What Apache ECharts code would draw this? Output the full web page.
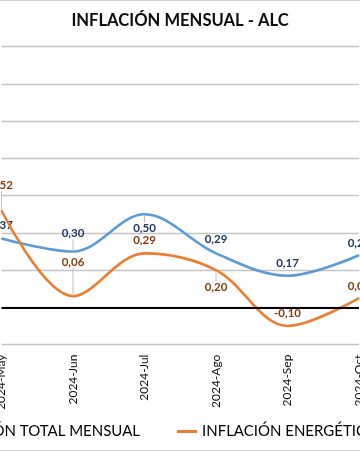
<!DOCTYPE html>
<html>
<head>
<meta charset="utf-8">
<script src="https://cdn.jsdelivr.net/npm/echarts@6/dist/echarts.min.js"></script>
<style>html,body{margin:0;padding:0;background:#fff}#c{width:360px;height:452px}</style>
</head>
<body>
<div id="c"></div>
<script>
const categories = ['2024-May', '2024-Jun', '2024-Jul', '2024-Ago', '2024-Sep', '2024-Oct'];
const totalValues = [0.37, 0.30, 0.50, 0.29, 0.17, 0.28];
const energyValues = [0.52, 0.06, 0.29, 0.20, -0.10, 0.05];
const yTicks = [-0.2, 0, 0.2, 0.4, 0.6, 0.8, 1.0, 1.2, 1.4];

const totalName = 'INFLACIÓN TOTAL MENSUAL';
const energyName = 'INFLACIÓN ENERGÉTICA MENSUAL';

// label placement (style only): vertical offset and whether a leader line is drawn
const totalLabelDy = [-13, -18, 14, -14, -12, -12];
const totalLeader = [false, true, true, false, false, false];
const energyLabelDy = [-25, -34, -13, 17, -13, -12];
const energyLeader = [true, true, false, true, false, false];

const FONT = 'Lato';
const fmt = p => p.value.toFixed(2).replace('.', ',');

function mkData(vals, leaders) {
  return vals.map((v, i) => ({
    value: v,
    labelLine: { show: leaders[i] }
  }));
}

const chart = echarts.init(document.getElementById('c'), null, { renderer: 'canvas' });
chart.setOption({
  animation: false,
  backgroundColor: '#fff',
  title: {
    text: 'INFLACIÓN MENSUAL - ALC',
    left: 'center',
    top: 12,
    padding: 0,
    textStyle: { fontFamily: FONT, fontSize: 16.6, fontWeight: 'bold', color: '#0d0d0d' }
  },
  legend: [
    {
      data: [totalName], right: 220, top: 424, padding: 0,
      icon: 'rect', itemWidth: 20, itemHeight: 3,
      textStyle: { fontFamily: FONT, fontSize: 15, color: '#000' }
    },
    {
      data: [energyName], left: 177, top: 424, padding: 0,
      icon: 'rect', itemWidth: 20, itemHeight: 3,
      textStyle: { fontFamily: FONT, fontSize: 15, color: '#000' }
    }
  ],
  grid: { left: 1.5, right: 1, top: 46.6, bottom: 107.4, containLabel: false, outerBoundsMode: 'none' },
  xAxis: {
    type: 'category',
    data: categories,
    boundaryGap: false,
    axisLine: { show: false },
    axisTick: { show: false },
    axisLabel: { rotate: 90, margin: 10, fontFamily: FONT, fontSize: 12, color: '#0d0d0d' },
    splitLine: { show: false }
  },
  yAxis: {
    type: 'value',
    min: yTicks[0],
    max: yTicks[yTicks.length - 1],
    interval: 0.2,
    axisLabel: { show: false },
    axisLine: { show: false },
    axisTick: { show: false },
    splitLine: { lineStyle: { color: '#c4c4c4', width: 1.3 } }
  },
  graphic: [
    { type: 'line', shape: { x1: 0, y1: 0.5, x2: 360, y2: 0.5 }, style: { stroke: '#d0d0d0', lineWidth: 1 }, silent: true },
    { type: 'line', shape: { x1: 0, y1: 450.5, x2: 360, y2: 450.5 }, style: { stroke: '#d0d0d0', lineWidth: 1 }, silent: true }
  ],
  series: [
    {
      name: totalName,
      type: 'line',
      smooth: 0.35,
      data: mkData(totalValues, totalLeader),
      symbol: 'circle',
      symbolSize: 1,
      showSymbol: true,
      lineStyle: { color: '#5b9bd5', width: 2.6 },
      itemStyle: { color: '#5b9bd5' },
      label: { show: true, position: 'inside', formatter: fmt, fontFamily: FONT, fontSize: 11.5, fontWeight: 'bold', color: '#203864' },
      labelLine: { show: false, lineStyle: { color: '#bfbfbf', width: 1 } },
      labelLayout: p => ({ dy: totalLabelDy[p.dataIndex] }),
      markLine: {
        silent: true, symbol: 'none', animation: false,
        label: { show: false },
        lineStyle: { color: '#000', width: 2, type: 'solid' },
        data: [{ yAxis: 0 }]
      },
      z: 3
    },
    {
      name: energyName,
      type: 'line',
      smooth: 0.35,
      data: mkData(energyValues, energyLeader),
      symbol: 'circle',
      symbolSize: 1,
      showSymbol: true,
      lineStyle: { color: '#ed7d31', width: 2.6 },
      itemStyle: { color: '#ed7d31' },
      label: { show: true, position: 'inside', formatter: fmt, fontFamily: FONT, fontSize: 11.5, fontWeight: 'bold', color: '#843c0c' },
      labelLine: { show: false, lineStyle: { color: '#bfbfbf', width: 1 } },
      labelLayout: p => ({ dy: energyLabelDy[p.dataIndex] }),
      z: 4
    }
  ]
});
</script>
</body>
</html>
